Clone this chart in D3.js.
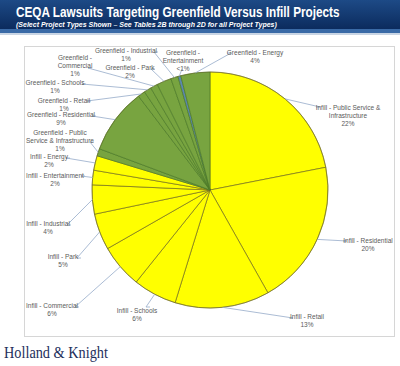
<!DOCTYPE html>
<html>
<head>
<meta charset="utf-8">
<script src="https://d3js.org/d3.v7.min.js"></script>
<style>
  body { margin: 0; background: #fff; }
  svg { display: block; }
  .lbl { font-family: "Liberation Sans", Arial, sans-serif; font-size: 6.5px; fill: #5a5a5a; }
</style>
</head>
<body>
<div id="chart"></div>
<script>
// slices, clockwise from 12 o'clock
const categories = [
  "Infill - Public Service & Infrastructure", "Infill - Residential", "Infill - Retail",
  "Infill - Schools", "Infill - Commercial", "Infill - Park", "Infill - Industrial",
  "Infill - Entertainment", "Infill - Energy",
  "Greenfield - Public Service & Infrastructure", "Greenfield - Residential", "Greenfield - Retail",
  "Greenfield - Schools", "Greenfield - Commercial", "Greenfield - Park", "Greenfield - Industrial",
  "Greenfield - Entertainment", "Greenfield - Energy"
]
const groups = ["Infill", "Infill", "Infill", "Infill", "Infill", "Infill", "Infill", "Infill", "Infill",
  "Greenfield", "Greenfield", "Greenfield", "Greenfield", "Greenfield", "Greenfield", "Greenfield",
  "Greenfield", "Greenfield"]
const shares = [22, 20, 13, 6, 6, 5, 4, 2, 2, 1, 9, 1, 1, 1, 2, 1, 0.4, 4]
const pctLabels = ["22%", "20%", "13%", "6%", "6%", "5%", "4%", "2%", "2%",
  "1%", "9%", "1%", "1%", "1%", "2%", "1%", "<1%", "4%"]
// how the label text wraps
const labelLines = [
  ["Infill - Public Service &", "Infrastructure"], ["Infill - Residential"], ["Infill - Retail"],
  ["Infill - Schools"], ["Infill - Commercial"], ["Infill - Park"], ["Infill - Industrial"],
  ["Infill - Entertainment"], ["Infill - Energy"],
  ["Greenfield - Public", "Service & Infrastructure"], ["Greenfield - Residential"], ["Greenfield - Retail"],
  ["Greenfield - Schools"], ["Greenfield -", "Commercial"], ["Greenfield - Park"], ["Greenfield - Industrial"],
  ["Greenfield -", "Entertainment"], ["Greenfield - Energy"]
]

// layout: label centre x, first line y, and where the leader line meets the text
const labelPos = [
  [348, 110, 316, 107], [368, 243, 343, 241], [307, 319, 289, 318], [137, 313, 150, 307],
  [52, 308, 79, 307], [63, 259, 81, 258], [48, 226, 71, 225], [55, 178, 85, 176],
  [49, 159, 70, 158], [60, 135, 94, 142], [61, 117, 96, 116], [64, 103, 91, 101],
  [55, 85, 86, 84], [75, 60, 92, 68], [130, 70, 155, 69], [126, 53, 158, 52],
  [183, 55, 182, 69], [255, 55, 227, 53]
]

const width = 400
const height = 366
const cx = 210, cy = 190, radius = 118

const colors = { Infill: "#ffff00", Greenfield: "#78a440" }
const strokes = { Infill: "#75701c", Greenfield: "#4c7a26" }

const svg = d3.select("#chart").append("svg")
  .attr("width", width).attr("height", height)

const defs = svg.append("defs")
const grad = defs.append("linearGradient").attr("id", "band")
  .attr("x1", 0).attr("y1", 0).attr("x2", 0).attr("y2", 1)
grad.append("stop").attr("offset", "0%").attr("stop-color", "#1d4a86")
grad.append("stop").attr("offset", "100%").attr("stop-color", "#0b2a5c")

// squeeze a text to a given width (the header font is condensed)
const fitWidth = (sel, x, y, w) => {
  const natural = sel.node().getComputedTextLength()
  sel.attr("transform", `translate(${x},${y}) scale(${w / natural},1)`)
}

// header band
svg.append("rect").attr("x", 0).attr("y", 0).attr("width", width).attr("height", 30)
  .attr("fill", "url(#band)")
svg.append("rect").attr("x", 0).attr("y", 29).attr("width", width).attr("height", 4)
  .attr("fill", "#3a6aa6")
svg.append("rect").attr("x", 0).attr("y", 33).attr("width", width).attr("height", 2)
  .attr("fill", "#c9d5e4")

const title = svg.append("text")
  .style("font-family", "Liberation Sans, Arial, sans-serif")
  .style("font-size", "15px").style("font-weight", "bold").attr("fill", "#fff")
  .text("CEQA Lawsuits Targeting Greenfield Versus Infill Projects")
fitWidth(title, 16, 17, 324)

const subtitle = svg.append("text")
  .style("font-family", "Liberation Sans, Arial, sans-serif")
  .style("font-size", "8px").style("font-weight", "bold").style("font-style", "italic")
  .attr("fill", "#fff")
  .text("(Select Project Types Shown \u2013 See Tables 2B through 2D  for all Project Types)")
fitWidth(subtitle, 16, 27, 261)

// chart frame
svg.append("rect").attr("x", 24.5).attr("y", 46.5).attr("width", 370).attr("height", 290)
  .attr("fill", "#fff").attr("stroke", "#d6d6d6").attr("stroke-width", 1)

const pie = d3.pie().sort(null).value(d => d)
const arcs = pie(shares)
const arc = d3.arc().innerRadius(0).outerRadius(radius)

const g = svg.append("g").attr("transform", `translate(${cx},${cy})`)

g.selectAll("path")
  .data(arcs)
  .enter()
  .append("path")
  .attr("d", arc)
  .attr("fill", (d, i) => categories[i] === "Greenfield - Entertainment" ? "#5b86b0" : colors[groups[i]])
  .attr("stroke", (d, i) => strokes[groups[i]])
  .attr("stroke-width", 0.7)
  .attr("stroke-linejoin", "round")

// outer rim
g.append("circle").attr("r", radius).attr("fill", "none")
  .attr("stroke", "#6d6a2a").attr("stroke-width", 0.8).attr("stroke-opacity", 0.6)

// leader lines
const leaders = svg.append("g")
arcs.forEach((d, i) => {
  const mid = (d.startAngle + d.endAngle) / 2
  const ex = cx + Math.sin(mid) * radius
  const ey = cy - Math.cos(mid) * radius
  const p = labelPos[i]
  const side = p[2] < p[0] ? -1 : 1
  const pts = [[ex, ey], [p[2], p[3]]]
  if (Math.abs(p[2] - p[0]) > 8) {
    pts[1] = [p[2] - side * 4, p[3]]
    pts.push([p[2], p[3]])
  }
  leaders.append("path")
    .attr("d", d3.line()(pts))
    .attr("fill", "none")
    .attr("stroke", "#95abc9")
    .attr("stroke-width", 0.8)
})

// labels
const labels = svg.append("g")
labelLines.forEach((lines, i) => {
  const p = labelPos[i]
  const t = labels.append("text").attr("class", "lbl").attr("text-anchor", "middle")
  lines.concat([pctLabels[i]]).forEach((s, k) => {
    t.append("tspan").attr("x", p[0]).attr("y", p[1] + k * 7.8).text(s)
  })
})

// footer
const footer = svg.append("text")
  .style("font-family", "Liberation Serif, Times New Roman, serif")
  .style("font-size", "16px")
  .attr("fill", "#1e2f5c")
  .text("Holland & Knight")
fitWidth(footer, 4, 358, 104)
</script>
</body>
</html>
